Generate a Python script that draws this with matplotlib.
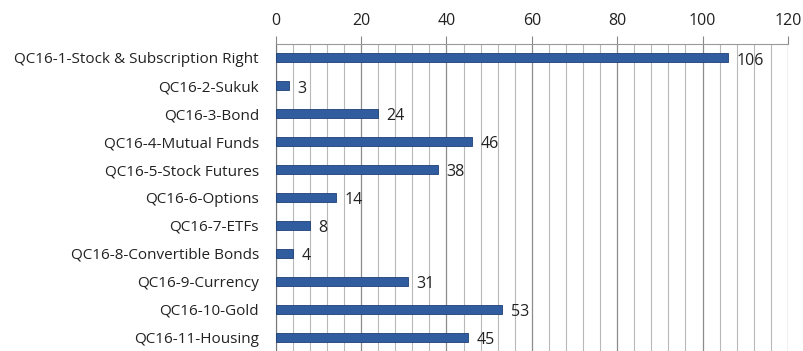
import matplotlib
matplotlib.use("Agg")
import matplotlib.pyplot as plt
from matplotlib.ticker import MultipleLocator

categories = ["QC16-1-Stock & Subscription Right", "QC16-2-Sukuk", "QC16-3-Bond",
              "QC16-4-Mutual Funds", "QC16-5-Stock Futures", "QC16-6-Options",
              "QC16-7-ETFs", "QC16-8-Convertible Bonds", "QC16-9-Currency",
              "QC16-10-Gold", "QC16-11-Housing"]
values = [106, 3, 24, 46, 38, 14, 8, 4, 31, 53, 45]

plt.rcParams['font.family'] = ['Open Sans', 'DejaVu Sans']

fig = plt.figure(figsize=(8.04, 3.51), dpi=100)
ax = fig.add_axes([0.343, 0.0, 0.637, 0.875])

y = range(len(categories))
ax.barh(y, values, height=0.32, color="#2f5da0", edgecolor="#1f3f75", linewidth=0.6, zorder=3)
for i, v in enumerate(values):
    ax.text(v + 2, i + 0.1, str(v), va="center", ha="left", fontsize=11.5, color="#222222")

ax.set_xlim(0, 120)
ax.set_ylim(10.5, -0.5)
ax.set_yticks(list(y))
ax.set_yticklabels(categories, fontsize=11, color="#222222")
ax.xaxis.tick_top()
ax.xaxis.set_major_locator(MultipleLocator(20))
ax.xaxis.set_minor_locator(MultipleLocator(4))
ax.tick_params(axis="x", which="major", length=6, color="#888888", labelsize=11.5, labelcolor="#222222", pad=5)
ax.tick_params(axis="x", which="minor", length=0)
ax.tick_params(axis="y", length=0, pad=12)
ax.grid(axis="x", which="minor", color="#b8b8b8", linewidth=0.8, zorder=0)
ax.grid(axis="x", which="major", color="#8c8c8c", linewidth=0.9, zorder=0)
for s in ["right", "bottom"]:
    ax.spines[s].set_visible(False)
ax.spines["top"].set_color("#999999")
ax.spines["left"].set_color("#777777")

fig.savefig("out.png", dpi=100)
